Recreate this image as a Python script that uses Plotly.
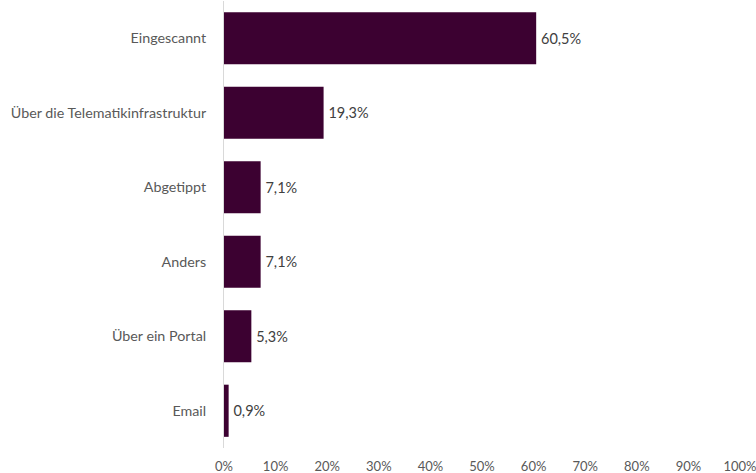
import plotly.graph_objects as go

# Survey answers: how documents are received
categories = ["Eingescannt", "Über die Telematikinfrastruktur", "Abgetippt",
              "Anders", "Über ein Portal", "Email"]
values = [60.5, 19.3, 7.1, 7.1, 5.3, 0.9]
tick_values = list(range(0, 101, 10))
tick_labels = [f"{v}%" for v in tick_values]

# German decimal comma, with a thin space to push labels off the bar end
labels = ["\u2009" + f"{v:.1f}".replace(".", ",") + "%" for v in values]

fig = go.Figure(
    go.Bar(
        x=values,
        y=categories,
        orientation="h",
        marker=dict(color="#3C0131", line=dict(width=0)),
        width=0.7,
        text=labels,
        textposition="outside",
        textfont=dict(family="Lato", size=14.5, color="#404040"),
        cliponaxis=False,
        hoverinfo="skip",
    )
)

fig.update_layout(
    width=756,
    height=473,
    margin=dict(l=224, r=16, t=1, b=25),
    paper_bgcolor="white",
    plot_bgcolor="white",
    showlegend=False,
    font=dict(family="Lato", color="#595959"),
)

fig.update_xaxes(
    range=[0, 100],
    tickvals=tick_values,
    ticktext=tick_labels,
    showgrid=False,
    zeroline=False,
    showline=False,
    tickfont=dict(size=13, color="#595959"),
    ticklabelstandoff=9,
    ticklabeloverflow="allow",
    automargin=False,
)

fig.update_yaxes(
    categoryorder="array",
    categoryarray=categories[::-1],
    showgrid=False,
    zeroline=False,
    showline=True,
    linecolor="#D9D9D9",
    linewidth=1,
    tickfont=dict(size=14.3, color="#595959"),
    ticklabelstandoff=14,
)

fig.write_html("out.html")
